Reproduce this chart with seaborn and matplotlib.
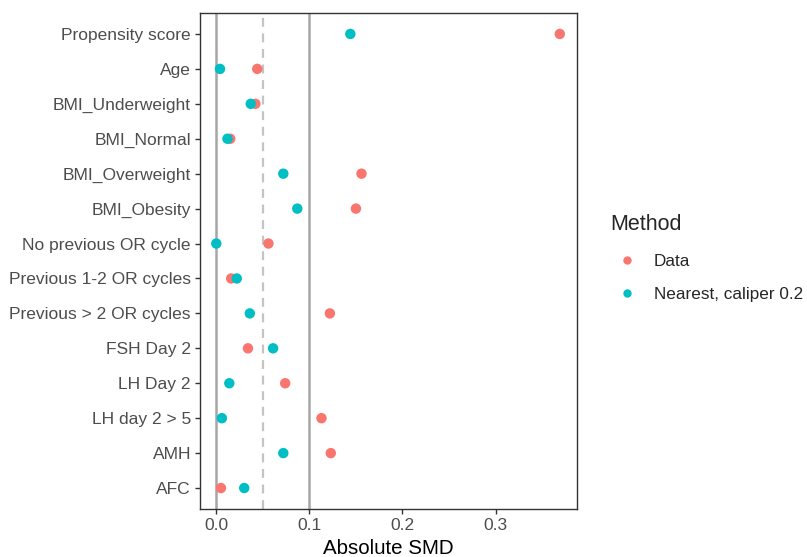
"""Love plot of absolute standardized mean differences with seaborn."""
import matplotlib
matplotlib.use('Agg')
import matplotlib.pyplot as plt
import pandas as pd
import seaborn as sns

# covariates, top to bottom
covariates = ['Propensity score', 'Age', 'BMI_Underweight', 'BMI_Normal',
              'BMI_Overweight', 'BMI_Obesity', 'No previous OR cycle',
              'Previous 1-2 OR cycles', 'Previous > 2 OR cycles', 'FSH Day 2',
              'LH Day 2', 'LH day 2 > 5', 'AMH', 'AFC']
smd_data = [0.369, 0.044, 0.042, 0.015, 0.156, 0.150, 0.056,
            0.016, 0.122, 0.034, 0.074, 0.113, 0.123, 0.005]
smd_matched = [0.144, 0.004, 0.037, 0.012, 0.072, 0.087, 0.000,
               0.022, 0.036, 0.061, 0.014, 0.006, 0.072, 0.030]
methods = ['Data', 'Nearest, caliper 0.2']
colors = ['#F8766D', '#00BFC4']

df = pd.DataFrame({
    'Covariate': covariates * 2,
    'Absolute SMD': smd_data + smd_matched,
    'Method': [methods[0]] * len(covariates) + [methods[1]] * len(covariates),
})

sns.set_style('white')
plt.rcParams['font.family'] = ['Liberation Sans', 'DejaVu Sans']

fig = plt.figure(figsize=(8.07, 5.57), dpi=100)
ax = fig.add_axes([200 / 807, 1 - 509 / 557, 377 / 807, 496 / 557])

# threshold / reference lines
ax.axvline(0, color='#a6a6a6', lw=1.8, zorder=1)
ax.axvline(0.1, color='#a6a6a6', lw=1.8, zorder=1)
ax.axvline(0.05, color='#c4c4c4', lw=1.6, ls=(0, (4, 3)), zorder=1)

sns.stripplot(data=df, x='Absolute SMD', y='Covariate', hue='Method',
              order=covariates, hue_order=methods, palette=colors,
              jitter=False, dodge=False, size=7.5, linewidth=0, ax=ax, zorder=3)

n = len(covariates)
ax.set_ylim(n - 1 + 0.6, -0.6)
ax.set_xlim(-0.0175, 0.3875)
ax.set_xticks([0.0, 0.1, 0.2, 0.3])
ax.set_xticklabels(['0.0', '0.1', '0.2', '0.3'])
ax.set_ylabel('')
ax.set_xlabel('Absolute SMD', fontsize=14.8, color='black', labelpad=4)
ax.tick_params(axis='both', length=3.5, width=1, color='#333333',
               labelsize=12.5, labelcolor='#4D4D4D', pad=3, direction='out')
ax.tick_params(left=True, bottom=True)
for spine in ax.spines.values():
    spine.set_color('#333333')
    spine.set_linewidth(1)

handles, labels = ax.get_legend_handles_labels()
ax.legend(handles, labels, title='Method', frameon=False,
          loc='upper left', bbox_to_anchor=(595 / 807, 1 - 199 / 557),
          bbox_transform=fig.transFigure, fontsize=12.3, title_fontsize=15.5,
          handletextpad=0.55, labelspacing=1.07, alignment='left',
          markerscale=0.8)

fig.savefig('out.png', dpi=100)
